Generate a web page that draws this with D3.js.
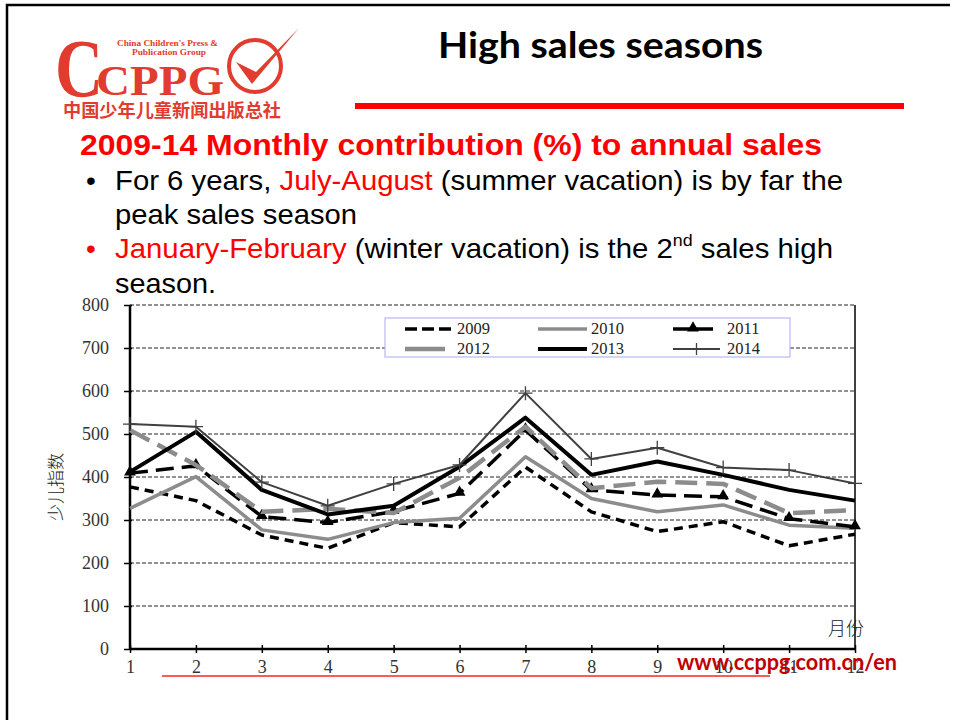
<!DOCTYPE html>
<html><head><meta charset="utf-8">
<script src="https://cdn.jsdelivr.net/npm/d3@7"></script>
<style>body{margin:0;background:#fff}svg{display:block}</style>
</head><body>
<svg id="c" width="955" height="720"></svg>
<script>
const months = [1,2,3,4,5,6,7,8,9,10,11,12];
const yTicks = [0,100,200,300,400,500,600,700,800];
const s2009 = [377,345,265,234,294,284,423,319,273,296,240,267];
const s2010 = [327,401,277,255,294,304,447,350,319,335,288,281];
const s2011 = [409,426,308,294,320,362,509,370,358,354,303,284];
const s2012 = [509,428,319,326,316,398,517,374,389,384,316,323];
const s2013 = [412,505,370,313,333,424,538,405,436,405,370,345];
const s2014 = [523,517,388,333,384,428,595,442,468,422,416,385];
const seriesNames = ["2009","2010","2011","2012","2013","2014"];

const svg = d3.select("#c");
// slide frame
svg.append("path").attr("d","M7,720 V5 H950").attr("fill","none").attr("stroke","#000").attr("stroke-width",2.5);

// Logo
const red = "#e23b2f";
const logo = svg.append("g");
logo.append("text").attr("x",55).attr("y",96).attr("font-family","Liberation Serif").attr("font-weight","bold")
  .attr("font-size",82).attr("fill",red).attr("textLength",48).attr("lengthAdjust","spacingAndGlyphs").text("C");
logo.append("text").attr("x",96).attr("y",95).attr("font-family","Liberation Serif").attr("font-weight","bold")
  .attr("font-size",42).attr("fill",red).attr("textLength",128).attr("lengthAdjust","spacingAndGlyphs").text("CPPG");
logo.append("text").attr("x",117).attr("y",46).attr("font-family","Liberation Serif").attr("font-weight","bold")
  .attr("font-size",9).attr("fill",red).attr("textLength",101).attr("lengthAdjust","spacingAndGlyphs").text("China Children's Press &");
logo.append("text").attr("x",132).attr("y",55).attr("font-family","Liberation Serif").attr("font-weight","bold")
  .attr("font-size",9).attr("fill",red).attr("textLength",74).attr("lengthAdjust","spacingAndGlyphs").text("Publication Group");
logo.append("circle").attr("cx",255).attr("cy",66).attr("r",26).attr("fill","none").attr("stroke",red).attr("stroke-width",4);
logo.append("path").attr("d","M236,62 L252,84 L299,28 L256,72 Z").attr("fill",red);
logo.append("text").attr("x",63).attr("y",117).attr("font-family","Noto Sans CJK SC").attr("font-weight","bold")
  .attr("font-size",18).attr("fill",red).attr("textLength",218).attr("lengthAdjust","spacingAndGlyphs").text("中国少年儿童新闻出版总社");

// Title
svg.append("text").attr("x",438).attr("y",58).attr("font-family","Lato")
  .attr("font-weight","bold").attr("font-size",37).attr("fill","#000")
  .attr("textLength",325).attr("lengthAdjust","spacingAndGlyphs").text("High sales seasons");
svg.append("line").attr("x1",355).attr("x2",904).attr("y1",106).attr("y2",106).attr("stroke","#ff0000").attr("stroke-width",6);

// Subtitle & bullets
const sans = "Liberation Sans";
svg.append("text").attr("x",80).attr("y",155).attr("font-family",sans).attr("font-weight","bold")
  .attr("font-size",30).attr("fill","#ff0000").attr("textLength",742).attr("lengthAdjust","spacingAndGlyphs")
  .text("2009-14 Monthly contribution (%) to annual sales");
function line(y, len, parts, bulletColor){
  if(bulletColor) svg.append("text").attr("x",86).attr("y",y).attr("font-family",sans).attr("font-size",28).attr("fill",bulletColor).text("•");
  const t = svg.append("text").attr("x",115).attr("y",y).attr("font-family",sans).attr("font-size",28)
    .attr("textLength",len).attr("lengthAdjust","spacingAndGlyphs");
  parts.forEach(p=>{
    const ts = t.append("tspan").attr("fill",p[1]||"#000").text(p[0]);
    if(p[2]==="sup"){ts.attr("font-size",17).attr("dy",-12);}
    if(p[2]==="after"){ts.attr("dy",12);}
  });
}
line(190,728,[["For 6 years, "],["July-August","#ff0000"],[" (summer vacation) is by far the"]],"#000");
line(224,242,[["peak sales season"]]);
line(258,718,[["January-February","#ff0000"],[" (winter vacation) is the 2"],["nd","#000","sup"],[" sales high","#000","after"]],"#ff0000");
line(293,101,[["season."]]);

// Chart
const x = d3.scaleLinear().domain([1,12]).range([130,855]);
const y = d3.scaleLinear().domain([0,800]).range([649,305]);
const serif = "Liberation Serif";

// gridlines
svg.append("g").selectAll("line").data(yTicks.filter(d=>d>0)).join("line")
  .attr("x1",x(1)).attr("x2",x(12)).attr("y1",d=>y(d)).attr("y2",d=>y(d))
  .attr("stroke","#222").attr("stroke-width",1).attr("stroke-dasharray","4,2");
// right border
svg.append("line").attr("x1",x(12)).attr("x2",x(12)).attr("y1",y(800)).attr("y2",y(0)).attr("stroke","#000").attr("stroke-width",1.5);

// y axis
const yAxis = svg.append("g").attr("transform",`translate(${x(1)},0)`)
  .call(d3.axisLeft(y).tickValues(yTicks).tickSize(6).tickFormat(d3.format("d")).tickPadding(15));
yAxis.select(".domain").attr("stroke","#000").attr("stroke-width",2.5).attr("d",`M0,${y(800)}V${y(0)}`);
yAxis.selectAll(".tick line").attr("x2",-6).attr("x1",2).attr("stroke","#000").attr("stroke-width",1.5);
yAxis.selectAll(".tick text").attr("font-family",serif).attr("font-size",18).attr("fill","#333");

// x axis
const xAxis = svg.append("g").attr("transform",`translate(0,${y(0)})`)
  .call(d3.axisBottom(x).tickValues(months).tickSize(5).tickFormat(d3.format("d")).tickPadding(6));
xAxis.select(".domain").attr("stroke","#000").attr("stroke-width",2.5).attr("d",`M${x(1)},0H${x(12)}`);
xAxis.selectAll(".tick line").attr("y1",-4).attr("y2",4).attr("stroke","#000").attr("stroke-width",1.5);
xAxis.selectAll(".tick text").attr("font-family",serif).attr("font-size",18).attr("fill","#333");

// axis titles
svg.append("text").attr("transform",`translate(62,${(y(0)+y(800))/2 + 10}) rotate(-90)`).attr("text-anchor","middle")
  .attr("font-family","Noto Sans CJK SC").attr("font-weight",300).attr("font-size",17).attr("fill","#222").text("少儿指数");
svg.append("text").attr("x",846).attr("y",635).attr("text-anchor","middle")
  .attr("font-family","Noto Sans CJK SC").attr("font-weight",300).attr("font-size",18).attr("fill","#222").text("月份");

// series
const styles = {
  "2009":{data:s2009,color:"#000",w:3.5,dash:"9,6"},
  "2010":{data:s2010,color:"#8c8c8c",w:3.5,dash:null},
  "2011":{data:s2011,color:"#000",w:3.5,dash:"18,8",marker:"tri"},
  "2012":{data:s2012,color:"#8c8c8c",w:4.5,dash:"22,9"},
  "2013":{data:s2013,color:"#000",w:4,dash:null},
  "2014":{data:s2014,color:"#404040",w:2,dash:null,marker:"plus"}
};
const lineGen = d3.line().x((d,i)=>x(months[i])).y(d=>y(d));
const tri = d3.symbol().type(d3.symbolTriangle).size(60);
seriesNames.forEach(n=>{
  const s = styles[n];
  svg.append("path").attr("d",lineGen(s.data)).attr("fill","none").attr("stroke",s.color)
    .attr("stroke-width",s.w).attr("stroke-dasharray",s.dash).attr("stroke-linejoin","round");
  if(s.marker==="tri"){
    svg.append("g").selectAll("path").data(s.data).join("path").attr("d",tri)
      .attr("transform",(d,i)=>`translate(${x(months[i])},${y(d)-1})`).attr("fill","#000");
  }
  if(s.marker==="plus"){
    svg.append("g").selectAll("path").data(s.data).join("path")
      .attr("d",(d,i)=>{const cx=x(months[i]),cy=y(d);return `M${cx-7},${cy}H${cx+7}M${cx},${cy-7}V${cy+7}`;})
      .attr("stroke","#404040").attr("stroke-width",1.3);
  }
});

// legend
const lg = svg.append("g");
lg.append("rect").attr("x",385).attr("y",318).attr("width",405).attr("height",39).attr("fill","#fff").attr("stroke","#b8b8f2").attr("stroke-width",1.2);
const legPos = {"2009":[405,453,329],"2010":[538,587,329],"2011":[673,713,329],
                "2012":[405,445,349],"2013":[538,587,349],"2014":[673,720,349]};
seriesNames.forEach(n=>{
  const s = styles[n], p = legPos[n];
  lg.append("line").attr("x1",p[0]).attr("x2",p[1]).attr("y1",p[2]).attr("y2",p[2])
    .attr("stroke",s.color).attr("stroke-width",s.w).attr("stroke-dasharray",n==="2009"?"12,5":null);
  if(s.marker==="tri") lg.append("path").attr("d",tri).attr("transform",`translate(${(p[0]+p[1])/2},${p[2]-1})`).attr("fill","#000");
  if(s.marker==="plus"){const cx=(p[0]+p[1])/2;lg.append("path").attr("d",`M${cx},${p[2]-6}V${p[2]+6}`).attr("stroke","#404040").attr("stroke-width",1.3);}
  lg.append("text").attr("x",n==="2009"||n==="2012"?457:(n==="2011"||n==="2014"?727:591)).attr("y",p[2]+5)
    .attr("font-family",serif).attr("font-size",16.5).attr("fill","#222").text(n);
});

// footer
svg.append("line").attr("x1",162).attr("x2",770).attr("y1",676).attr("y2",676).attr("stroke","#ff5a5a").attr("stroke-width",2);
svg.append("text").attr("x",677).attr("y",670).attr("font-family","Lato").attr("font-weight","bold")
  .attr("font-size",22).attr("fill","#c00000").attr("textLength",220).attr("lengthAdjust","spacingAndGlyphs").text("www.ccppg.com.cn/en");
</script>
</body></html>
